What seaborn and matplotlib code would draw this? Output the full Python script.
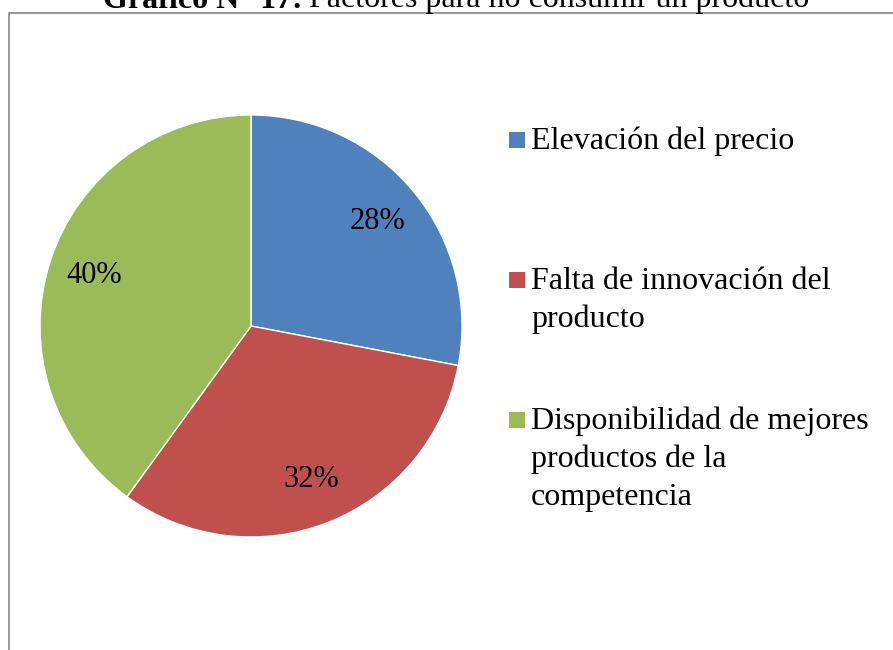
import matplotlib
matplotlib.use("Agg")
import matplotlib.pyplot as plt
import seaborn as sns
from matplotlib.patches import Rectangle
from matplotlib.lines import Line2D

# data
factores = [
    "Elevación del precio",
    "Falta de innovación del\nproducto",
    "Disponibilidad de mejores\nproductos de la\ncompetencia",
]
porcentajes = [28, 32, 40]
colores = ["#4F81BD", "#C0504D", "#9BBB59"]

sns.set_style("white")
plt.rcParams["font.family"] = ["Liberation Serif", "DejaVu Serif"]
plt.rcParams["text.color"] = "black"

W, H = 893, 650
fig = plt.figure(figsize=(W / 100, H / 100), dpi=100)

# pie
ax = fig.add_axes([40 / W, (H - 326 - 211) / H, 422 / W, 422 / H])
wedges, texts, autotexts = ax.pie(
    porcentajes,
    colors=colores,
    startangle=90,
    counterclock=False,
    autopct="%d%%",
    pctdistance=0.78,
    wedgeprops=dict(edgecolor="white", linewidth=1),
    textprops=dict(fontsize=22, color="black"),
)
ax.set_xlim(-1, 1)
ax.set_ylim(-1, 1)
ax.set_aspect("equal")
ax.axis("off")

# chart border (cut by the image edges)
fig.add_artist(Line2D([8.5 / W, 8.5 / W, 1.0], [0.0, 1 - 12.5 / H, 1 - 12.5 / H],
                      color="#868686", lw=1.2, transform=fig.transFigure))

# title, partly outside the image
fig.text(303 / W, 1 - 7.5 / H, "Gráfico N° 17:", ha="right", va="baseline",
         fontsize=23, fontweight="bold", color="black")
fig.text(309 / W, 1 - 7.5 / H, "Factores para no consumir un producto",
         ha="left", va="baseline", fontsize=23, color="black")

# legend
baselines = [149, 289, 429]
for lab, col, yb in zip(factores, colores, baselines):
    fig.add_artist(Rectangle((509 / W, 1 - (yb - 1) / H), 16 / W, 16 / H,
                             facecolor=col, edgecolor="none",
                             transform=fig.transFigure))
    for k, line in enumerate(lab.split("\n")):
        fig.text(531 / W, 1 - (yb + 38 * k) / H, line, ha="left",
                 va="baseline", fontsize=23, color="black")

fig.savefig("out.png", dpi=100)
